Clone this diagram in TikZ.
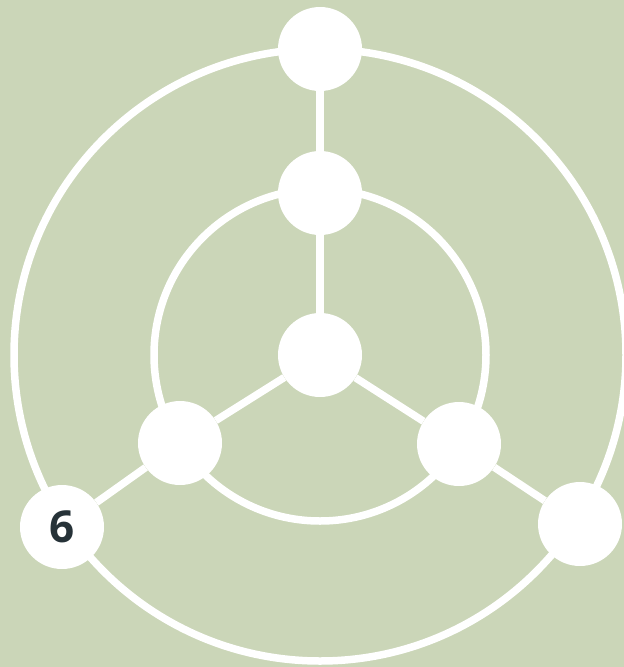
\documentclass[tikz,border=0pt]{standalone}
\usepackage{fontspec}
\setmainfont{Open Sans}
\definecolor{bgc}{RGB}{203,214,184}
\definecolor{txt}{RGB}{38,50,56}
\begin{document}
\begin{tikzpicture}[x=1pt,y=-1pt,
  dot/.style={circle,fill=white,draw=none,minimum size=84pt,inner sep=0pt,
    font=\fontsize{44}{44}\selectfont\bfseries,text=txt},
  link/.style={white,line width=7.5pt},
  ring/.style={white,line width=7.5pt}]
\fill[bgc] (0,0) rectangle (624,667);
\useasboundingbox (0,0) rectangle (624,667);
\coordinate (O) at (320,355);
\draw[ring] (O) circle (306);
\draw[ring] (O) circle (166);
\node[dot] (c) at (320,355) {};
\node[dot] (ti) at (320,193) {};
\node[dot] (to) at (320,49) {};
\node[dot] (li) at (180,443) {};
\node[dot] (ri) at (459,444) {};
\node[dot] (lo) at (62,527) {6};
\node[dot] (ro) at (580,524) {};
\draw[link] (c) -- (ti);
\draw[link] (ti) -- (to);
\draw[link] (c) -- (li);
\draw[link] (li) -- (lo);
\draw[link] (c) -- (ri);
\draw[link] (ri) -- (ro);
\end{tikzpicture}
\end{document}
